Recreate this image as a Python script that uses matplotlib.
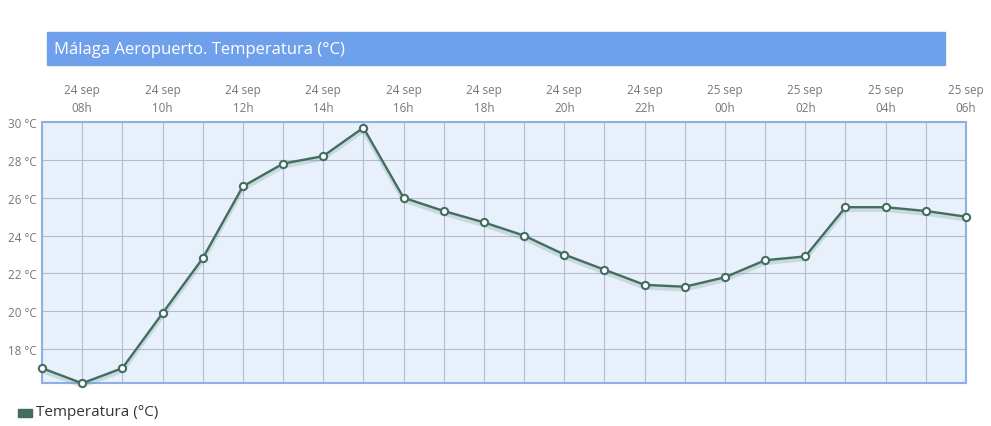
import matplotlib
matplotlib.use('Agg')
import matplotlib.pyplot as plt
import matplotlib.patheffects as pe
from matplotlib.patches import Rectangle

plt.rcParams['font.family'] = ['Open Sans', 'DejaVu Sans']

# hourly data, 24 sep 07h -> 25 sep 06h
days = ['24 sep'] * 17 + ['25 sep'] * 7
hours = ['07h', '08h', '09h', '10h', '11h', '12h', '13h', '14h', '15h', '16h', '17h', '18h',
         '19h', '20h', '21h', '22h', '23h', '00h', '01h', '02h', '03h', '04h', '05h', '06h']
temp = [17.0, 16.2, 17.0, 19.9, 22.8, 26.6, 27.8, 28.2, 29.7, 26.0, 25.3, 24.7,
        24.0, 23.0, 22.2, 21.4, 21.3, 21.8, 22.7, 22.9, 25.5, 25.5, 25.3, 25.0]
yticks = [18, 20, 22, 24, 26, 28, 30]

line_col = '#436d60'
W, H = 991, 427
fig = plt.figure(figsize=(W / 100, H / 100), dpi=100)

# title bar
fig.patches.append(Rectangle((47 / W, 1 - 66 / H), (945 - 47) / W, 33 / H,
                             transform=fig.transFigure, color='#6fa0eb', zorder=0))
fig.text(54 / W, 1 - 49.5 / H, 'Málaga Aeropuerto. Temperatura (°C)', color='white',
         fontsize=12, va='center', ha='left')

ax = fig.add_axes([42 / W, 1 - 384.3 / H, (966 - 42) / W, (384.3 - 123) / H])
ax.set_facecolor('#e7f0fb')
x = list(range(len(temp)))
# shadow under the line, then the line itself
ax.plot(x, temp, color=line_col, lw=1.7, zorder=3, clip_on=False,
        path_effects=[pe.SimpleLineShadow(offset=(0, -2), shadow_color='#6f9a85', alpha=0.25, linewidth=3),
                      pe.Normal()])
ax.plot(x, temp, ls='none', marker='o', ms=5.2, mfc='white', mec=line_col, mew=1.5,
        zorder=4, clip_on=False)

ax.set_xlim(0, len(temp) - 1)
ax.set_ylim(min(temp), 30)
ax.set_yticks(yticks)
ax.set_yticklabels(['%d °C' % t for t in yticks])
ax.set_xticks(x[1::2])
ax.set_xticklabels([d + '\n' + h for d, h in zip(days[1::2], hours[1::2])], linespacing=1.45)
ax.set_xticks(x, minor=True)
ax.xaxis.tick_top()
ax.tick_params(axis='both', which='both', length=0, colors='#777777', labelsize=8.4)
ax.tick_params(axis='x', pad=6)
ax.tick_params(axis='y', pad=4)
ax.grid(True, which='both', axis='x', color='#b3bbcc', lw=0.8)
ax.grid(True, which='major', axis='y', color='#b3bbcc', lw=0.8)
ax.set_axisbelow(True)
for s in ax.spines.values():
    s.set_color('#8eb0e6')
    s.set_linewidth(1.5)

# legend
fig.patches.append(Rectangle((18 / W, 1 - 418 / H), 14 / W, 8 / H,
                             transform=fig.transFigure, color=line_col))
fig.text(36 / W, 1 - 413 / H, 'Temperatura (°C)', color='#333333', fontsize=11,
         va='center', ha='left')

fig.savefig('out.png', dpi=100)
